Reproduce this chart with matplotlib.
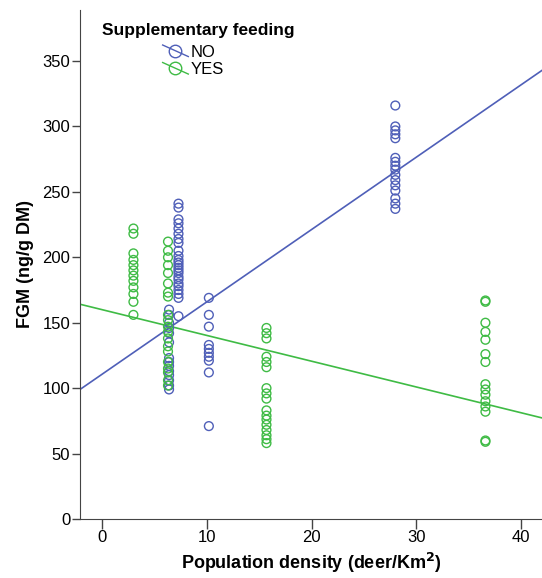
import matplotlib.pyplot as plt
import numpy as np
from matplotlib.lines import Line2D
from matplotlib.legend_handler import HandlerBase

plt.rcParams['font.family'] = ['Liberation Sans', 'DejaVu Sans']

# ---- data ----
no_x = [6.4] * 14 + [7.3] * 24 + [10.2] * 10 + [28.0] * 16
no_y = [160, 156, 150, 146, 142, 135, 123, 120, 117, 113, 110, 106, 102, 99,
        241, 238, 229, 226, 222, 218, 214, 211, 205, 201, 198, 196, 194, 192,
        190, 188, 185, 183, 180, 178, 175, 172, 169, 155,
        169, 156, 147, 133, 130, 127, 124, 121, 112, 71,
        316, 300, 297, 294, 291, 276, 273, 270, 267, 263, 259, 255, 251, 245, 241, 237]

yes_x = [3.0] * 12 + [6.3] * 20 + [15.7] * 17 + [36.6] * 15
yes_y = [222, 218, 203, 198, 194, 190, 186, 182, 177, 172, 166, 156,
         212, 205, 200, 194, 188, 180, 173, 170, 156, 152, 147, 143, 138, 132,
         128, 120, 115, 112, 106, 102,
         146, 142, 138, 124, 120, 116, 100, 96, 92, 83, 79, 76, 72, 68, 64, 61, 58,
         167, 166, 150, 143, 137, 126, 120, 103, 99, 95, 90, 86, 82, 60, 59]

# fit lines (intercept, slope)
no_fit = (110.6, 5.53)
yes_fit = (160.0, -1.97)

labels = ['NO', 'YES']
blue = '#4f5fb8'
green = '#3fbb45'


class DiagHandler(HandlerBase):
    def create_artists(self, legend, orig_handle, xdescent, ydescent,
                       width, height, fontsize, trans):
        cx = width / 2 - xdescent
        cy = height / 2 - ydescent
        w = height * 1.1
        ln = Line2D([cx - w, cx + w], [cy + w * 0.45, cy - w * 0.45],
                    color=orig_handle.get_color(), lw=1, transform=trans)
        mk = Line2D([cx], [cy], marker='o', markersize=9, mfc='none',
                    mec=orig_handle.get_color(), mew=1, ls='none',
                    transform=trans)
        return [ln, mk]


fig = plt.figure(figsize=(5.42, 5.78), dpi=100)
ax = fig.add_axes([80 / 542, 59 / 578, 462 / 542, 509 / 578])

ax.scatter(no_x, no_y, s=40, facecolors='none', edgecolors=blue, linewidths=1, zorder=3)
ax.scatter(yes_x, yes_y, s=40, facecolors='none', edgecolors=green, linewidths=1, zorder=3)

ax.set_xlim(-2.1, 42.0)
ax.set_ylim(0, 389)
xx = np.array(ax.get_xlim())
ax.plot(xx, no_fit[0] + no_fit[1] * xx, color=blue, lw=1.2, zorder=2)
ax.plot(xx, yes_fit[0] + yes_fit[1] * xx, color=green, lw=1.2, zorder=2)

ax.spines['top'].set_visible(False)
ax.spines['right'].set_visible(False)
ax.spines['left'].set_color('#444444')
ax.spines['bottom'].set_color('#444444')
ax.set_xticks([0, 10, 20, 30, 40])
ax.set_yticks([0, 50, 100, 150, 200, 250, 300, 350])
ax.tick_params(axis='y', length=6, width=1, color='#444444', labelsize=12, pad=1)
ax.tick_params(axis='x', length=7, width=1, color='#444444', labelsize=12, pad=1)

ax.set_xlabel('Population density (deer/Km$^{\\mathbf{2}}$)', fontsize=13,
              fontweight='bold', labelpad=4)
ax.set_ylabel('FGM (ng/g DM)', fontsize=13, fontweight='bold', labelpad=6)

ax.text(0.048, 0.975, 'Supplementary feeding', transform=ax.transAxes,
        fontsize=12.5, fontweight='bold', ha='left', va='top')
h = [Line2D([], [], color=blue), Line2D([], [], color=green)]
ax.legend(h, labels, loc='upper left', bbox_to_anchor=(0.185, 0.932),
          frameon=False, fontsize=12, handler_map={Line2D: DiagHandler()},
          handlelength=1.2, handletextpad=0.3, labelspacing=0.15,
          borderpad=0, borderaxespad=0)

fig.savefig('out.png', dpi=100)
